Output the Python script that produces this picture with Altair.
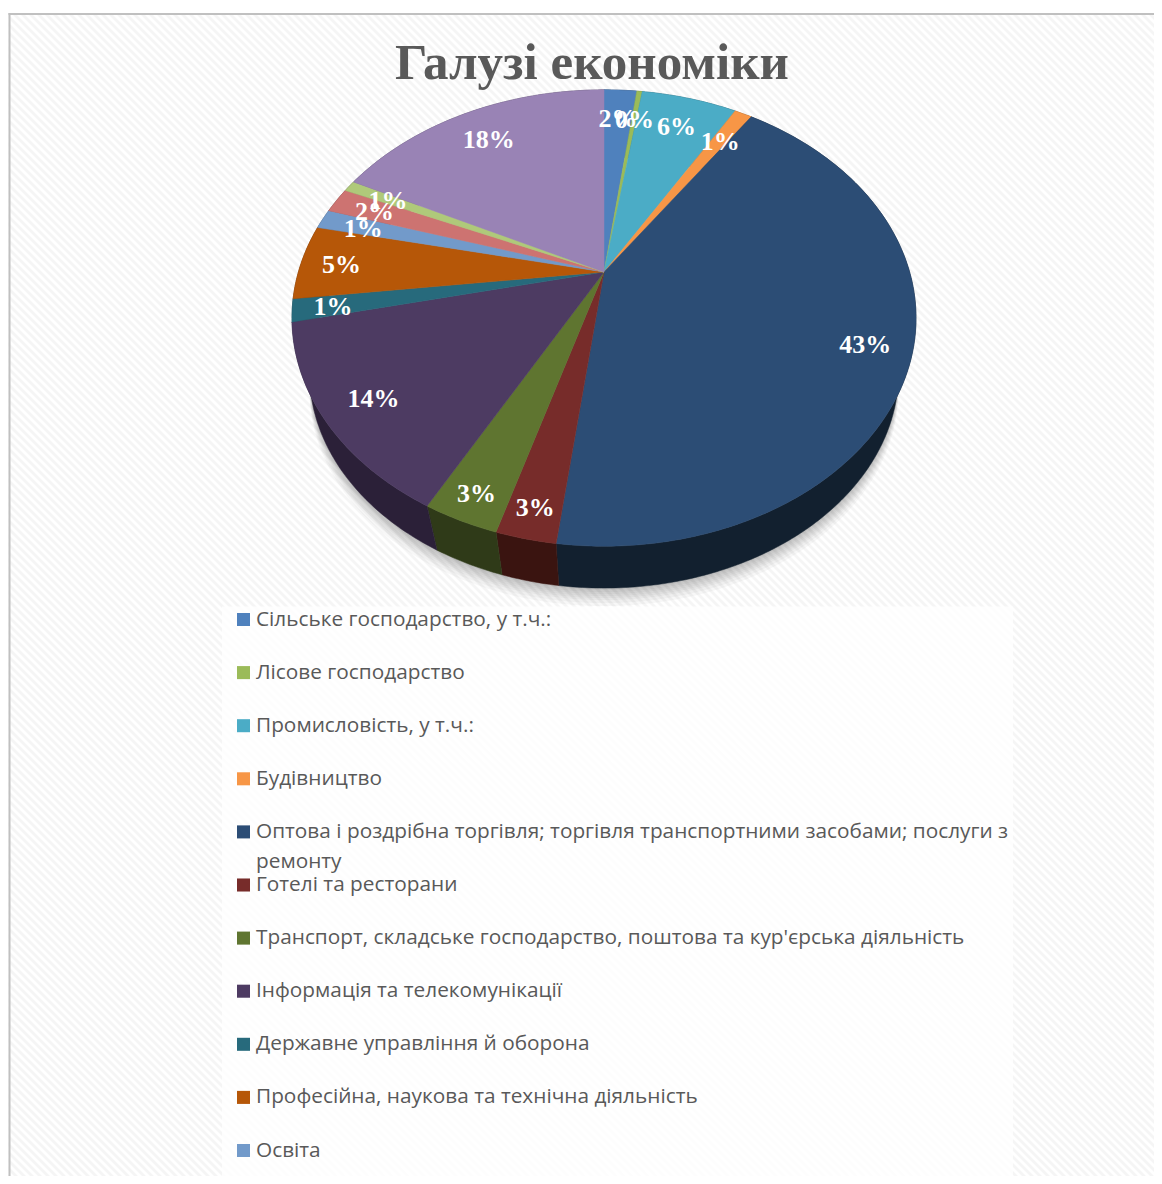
import math
import altair as alt
import pandas as pd

TITLE = "Галузі економіки"
SHARES = [2.06, 0.34, 6.0, 1.1, 42.5, 2.6, 3.3, 13.6, 1.6, 5.3, 1.4, 1.8, 0.8, 17.6]
PCT_LABELS = ["2%", "0%", "6%", "1%", "43%", "3%", "3%", "14%", "1%", "5%", "1%", "2%", "1%", "18%"]
TOP_COLORS = ["#4F81BD", "#9BBB59", "#4BACC6", "#F79646", "#2C4D75", "#772C2A", "#5F7530",
              "#4D3B62", "#276A7C", "#B65708", "#729ACA", "#CD7371", "#AFC97A", "#9983B5"]
WALL_COLORS = ["#263F5E", "#4A5C2B", "#245461", "#7A4A22", "#12202F", "#3A1410", "#2F3A18",
               "#2B2038", "#133540", "#5A2B04", "#385070", "#653837", "#57643C", "#4C415A"]
LEGEND = [
    "Сільське господарство, у т.ч.:",
    "Лісове господарство",
    "Промисловість, у т.ч.:",
    "Будівництво",
    "Оптова і роздрібна торгівля; торгівля транспортними засобами; послуги з",
    "Готелі та ресторани",
    "Транспорт, складське господарство, поштова та кур'єрська діяльність",
    "Інформація та телекомунікації",
    "Державне управління й оборона",
    "Професійна, наукова та технічна діяльність",
    "Освіта",
]
LEGEND_WRAP = "ремонту"
LABEL_RADIUS = [.83, .83, .826, .813, .858, .90, .906, .848, .873, .867, .85, .85, .837, .82]

# perspective of the pie disc
CX, CY, A, B, K = 604, 272, 305.6, 218.9, 0.2017
W, H = 1146, 1168
XS = alt.Scale(domain=[8, 8 + W], range=[0, W], nice=False, zero=False)
YS = alt.Scale(domain=[8, 8 + H], range=[0, H], nice=False, zero=False)


def proj(theta, r=1.0):
    px, py = r * math.sin(theta), r * math.cos(theta)
    d = 1 + K * py
    return CX + A * px / d, CY - B * py / d


def lower(p):
    return CX + 0.944 * (p[0] - CX), 0.944 * p[1] + 72.5


total = sum(SHARES)
edges = [0.0]
for s in SHARES:
    edges.append(edges[-1] + s / total * 2 * math.pi)


def arc(t0, t1):
    n = max(2, int((t1 - t0) / math.radians(0.75)))
    return [proj(t0 + (t1 - t0) * i / n) for i in range(n + 1)]


top, wall, shadow, labels = [], [], [], []
for i in range(len(SHARES)):
    pts = arc(edges[i], edges[i + 1])
    poly = [(CX, CY)] + pts
    for j, (x, y) in enumerate(poly):
        top.append(dict(s=i, o=j, x=x, y=y, c=TOP_COLORS[i]))
    lw = [lower(p) for p in pts]
    for j, (x, y) in enumerate(pts + lw[::-1]):
        wall.append(dict(s=i, o=j, x=x, y=y, c=WALL_COLORS[i]))
    mx, my = proj((edges[i] + edges[i + 1]) / 2, LABEL_RADIUS[i])
    labels.append(dict(x=mx, y=my + 2, t=PCT_LABELS[i]))

ring = [lower(p) for p in arc(0, 2 * math.pi)]
for n, off in enumerate([2, 4, 6, 8, 10, 12, 15, 18]):
    for j, (x, y) in enumerate(ring):
        shadow.append(dict(s=n, o=j, x=x, y=y + off))


def poly_layer(rows, **kw):
    base = alt.Chart(pd.DataFrame(rows)).mark_line(interpolate="linear-closed", **kw)
    enc = dict(
        x=alt.X("x:Q", scale=XS, axis=None),
        y=alt.Y("y:Q", scale=YS, axis=None),
        detail="s:N",
        order="o:Q",
    )
    if "c" in rows[0]:
        enc["fill"] = alt.Fill("c:N", scale=None)
        enc["stroke"] = alt.Stroke("c:N", scale=None)
    return base.encode(**enc)


# hatch
PERIOD = 8
stripes = [dict(x=c, x2=c + 1200, y=0, y2=1200) for c in range(-1200, 1170, PERIOD)]
hatch = alt.Chart(pd.DataFrame(stripes)).mark_rule(color="#f5f5f5", strokeWidth=2.8, clip=True).encode(
    x=alt.X("x:Q", scale=XS, axis=None), x2="x2:Q",
    y=alt.Y("y:Q", scale=YS, axis=None), y2="y2:Q")


def rect(x, x2, y, y2, color, opacity=1.0):
    return alt.Chart(pd.DataFrame([dict(x=x, x2=x2, y=y, y2=y2)])).mark_rect(
        color=color, opacity=opacity, clip=True).encode(
        x=alt.X("x:Q", scale=XS, axis=None), x2="x2:Q",
        y=alt.Y("y:Q", scale=YS, axis=None), y2="y2:Q")


white_top = rect(8, 8 + W, 8, 13, "#ffffff")
white_left = rect(8, 8.5, 8, 8 + H, "#ffffff")
border_top = rect(8.5, 8 + W, 13, 15, "#c0c0c0")
border_left = rect(8.5, 10.5, 13, 8 + H, "#c0c0c0")
legend_box = rect(222, 1013, 606.5, 8 + H, "#ffffff", 0.82)

shadow_layer = poly_layer(shadow, fill="#000000", fillOpacity=0.03, strokeOpacity=0, stroke="#000000")
wall_layer = poly_layer(wall, strokeWidth=0.5)
top_layer = poly_layer(top, strokeWidth=0.5)

label_layer = alt.Chart(pd.DataFrame(labels)).mark_text(
    font="Liberation Serif", fontWeight="bold", fontSize=26, color="#ffffff", baseline="middle", align="center"
).encode(x=alt.X("x:Q", scale=XS, axis=None), y=alt.Y("y:Q", scale=YS, axis=None), text="t:N")

title_layer = alt.Chart(pd.DataFrame([dict(x=592, y=64, t=TITLE)])).mark_text(
    font="Liberation Serif", fontWeight="bold", fontSize=51, color="#595959", baseline="middle", align="center"
).encode(x=alt.X("x:Q", scale=XS, axis=None), y=alt.Y("y:Q", scale=YS, axis=None), text="t:N")

rows = [dict(x=256, y=619.5 + 53.1 * i, t=t, c=TOP_COLORS[i], sx=243.5) for i, t in enumerate(LEGEND)]
legend_squares = alt.Chart(pd.DataFrame(rows)).mark_square(size=170, opacity=1).encode(
    x=alt.X("sx:Q", scale=XS, axis=None), y=alt.Y("y:Q", scale=YS, axis=None),
    fill=alt.Fill("c:N", scale=None))
rows2 = rows + [dict(x=256, y=rows[4]["y"] + 30, t=LEGEND_WRAP)]
legend_text = alt.Chart(pd.DataFrame(rows2)).mark_text(
    font="Open Sans", fontSize=20.8, color="#595959", baseline="middle", align="left"
).encode(x=alt.X("x:Q", scale=XS, axis=None), y=alt.Y("y:Q", scale=YS, axis=None), text="t:N")

chart = alt.layer(
    hatch, white_top, white_left, border_top, border_left, shadow_layer, legend_box,
    wall_layer, top_layer, label_layer, title_layer, legend_squares, legend_text,
).properties(width=W, height=H, padding=0, background="#ffffff",
             autosize=alt.AutoSizeParams(type="none")).configure_view(stroke=None)

chart.save("out.html", embed_options={"renderer": "svg", "actions": False})
